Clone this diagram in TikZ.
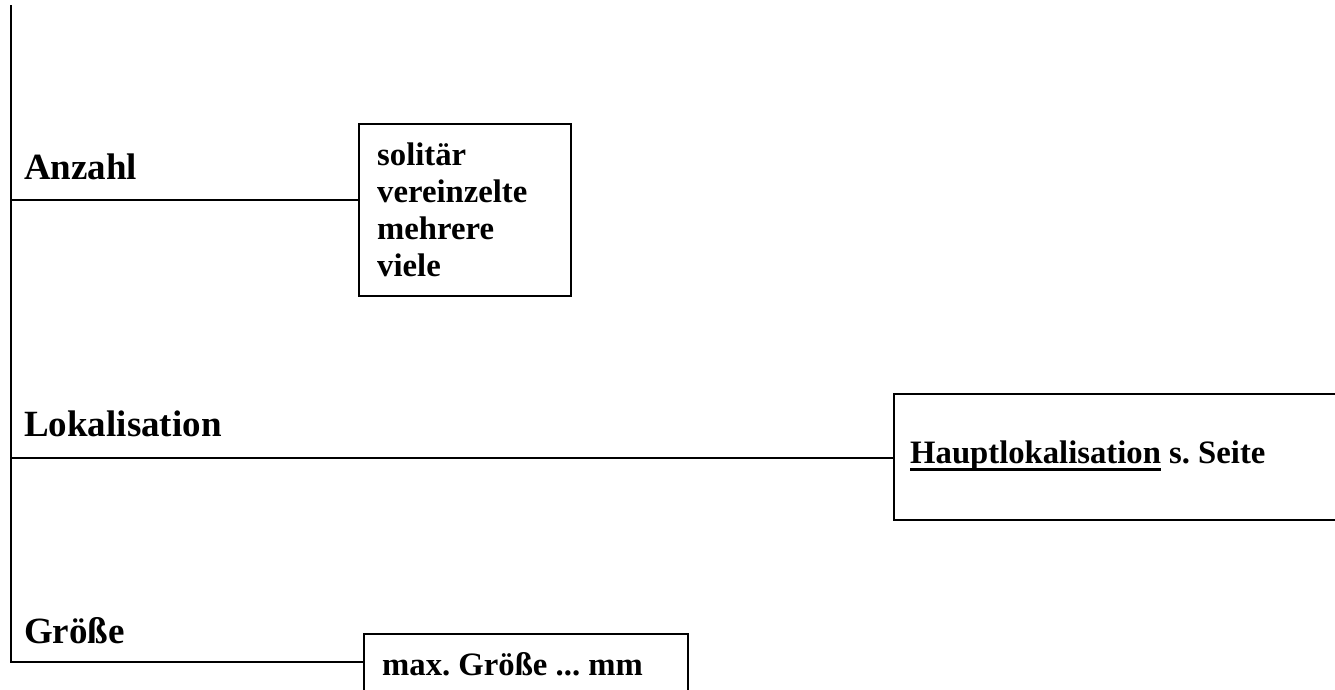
\documentclass[tikz,border=0pt]{standalone}
\usepackage{fontspec}
\setmainfont{Liberation Serif}
\frenchspacing
\newcommand\thickul[1]{\setbox0\hbox{#1}\rlap{\rule[-7.5pt]{\wd0}{2.5pt}}\box0\relax}
\begin{document}
\begin{tikzpicture}[x=1pt,y=-1pt,
  line/.style={line width=2.4pt,black},
  box/.style={draw,line width=2.4pt,rectangle,inner sep=0pt,anchor=north west},
  lbl/.style={anchor=base west,inner sep=0pt,font=\fontsize{37}{43}\selectfont\bfseries},
  txt/.style={anchor=base west,inner sep=0pt,font=\fontsize{32.7}{37}\selectfont\bfseries\frenchspacing}]
\useasboundingbox (0,0) rectangle (1335,689);
\clip (0,0) rectangle (1335,689);
% spine
\coordinate (top) at (11,5);
\coordinate (bot) at (11,663);
\draw[line] (top) -- (bot);
% Anzahl
\node[lbl] (lA) at (24,179) {Anzahl};
\node[box,minimum width=212pt,minimum height=172pt] (b1) at (358,123) {};
\coordinate (cA) at (11,200);
\draw[line] (cA) -- (cA -| b1.west);
\node[txt] (t1) at (377,165) {solitär};
\node[txt] (t2) at (377,202) {vereinzelte};
\node[txt] (t3) at (377,239) {mehrere};
\node[txt] (t4) at (377,276) {viele};
% Lokalisation
\node[lbl] (lL) at (24,436) {Lokalisation};
\node[box,minimum width=520pt,minimum height=126pt] (b2) at (893,393) {};
\coordinate (cL) at (11,458);
\draw[line] (cL) -- (cL -| b2.west);
\node[txt] (t5) at (910,463) {\thickul{Hauptlokalisation} s. Seite};
% Groesse
\node[lbl] (lG) at (24,643) {Größe};
\node[box,minimum width=324pt,minimum height=100pt] (b3) at (363,633) {};
\coordinate (cG) at (11,662);
\draw[line] (cG) -- (cG -| b3.west);
\node[txt] (t6) at (382,675) {max. Größe ... mm};
\end{tikzpicture}
\end{document}
